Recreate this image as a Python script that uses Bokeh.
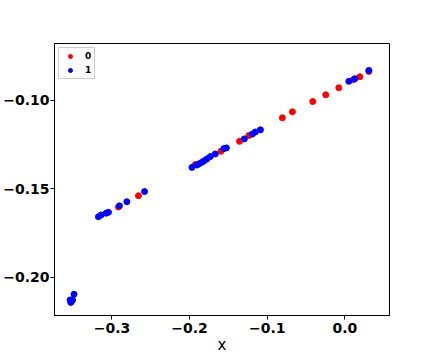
from bokeh.plotting import figure
from bokeh.models import ColumnDataSource, FixedTicker, CustomJSTickFormatter, Range1d, Legend, LegendItem
from bokeh.embed import file_html
from bokeh.resources import INLINE

# class 0 (red)
x0 = [0.031, 0.0194, 0.0108, -0.0077, -0.0245, -0.0413, -0.0675, -0.0804,
      -0.1236, -0.1356, -0.1595, -0.1926, -0.2658, -0.2916]
y0 = [-0.0836, -0.0866, -0.0883, -0.0928, -0.0968, -0.1006, -0.1064, -0.1098,
      -0.1198, -0.1231, -0.1287, -0.1362, -0.1538, -0.1602]
# class 1 (blue)
x1 = [0.031, 0.0129, 0.0052, -0.1087, -0.1152, -0.1191, -0.1294, -0.1526,
      -0.1559, -0.1668, -0.1733, -0.1775, -0.1810, -0.1840, -0.1875, -0.1905,
      -0.1969, -0.2580, -0.2808, -0.2903, -0.3045, -0.3075, -0.3139, -0.3174,
      -0.3488, -0.3517, -0.3530, -0.3507, -0.3539]
y1 = [-0.0830, -0.0877, -0.0892, -0.1166, -0.1178, -0.1190, -0.1217, -0.1268,
      -0.1272, -0.1302, -0.1317, -0.1330, -0.1340, -0.1349, -0.1357, -0.1365,
      -0.1378, -0.1515, -0.1572, -0.1595, -0.1632, -0.1637, -0.1647, -0.1657,
      -0.2095, -0.2133, -0.2141, -0.2127, -0.2127]

x_ticks = [-0.3, -0.2, -0.1, 0.0]
y_ticks = [-0.20, -0.15, -0.10]
labels = ["0", "1"]

p = figure(width=432, height=360, frame_width=335, frame_height=272,
           output_backend="svg", toolbar_location=None,
           x_range=Range1d(-0.374, 0.0576), y_range=Range1d(-0.2215, -0.0678),
           min_border_left=54, min_border_top=43, min_border_right=43, min_border_bottom=45)

p.xgrid.visible = False
p.ygrid.visible = False
p.outline_line_color = "black"
p.outline_line_alpha = 1
p.background_fill_color = "white"
p.border_fill_color = "white"

s0 = ColumnDataSource(dict(x=x0, y=y0))
s1 = ColumnDataSource(dict(x=x1, y=y1))
r0 = p.scatter("x", "y", source=s0, size=6, fill_color="#ff0000", line_color="#ff0000")
r1 = p.scatter("x", "y", source=s1, size=6, fill_color="#0000ff", line_color="#0000ff")

p.xaxis.ticker = FixedTicker(ticks=x_ticks)
p.yaxis.ticker = FixedTicker(ticks=y_ticks)
p.xaxis.formatter = CustomJSTickFormatter(code="return (Math.abs(tick) < 1e-9 ? 0 : tick).toFixed(1).replace('-', '\\u2212');")
p.yaxis.formatter = CustomJSTickFormatter(code="return tick.toFixed(2).replace('-', '\\u2212');")

for ax in (p.xaxis, p.yaxis):
    ax.major_label_text_font = "DejaVu Sans"
    ax.major_label_text_font_style = "bold"
    ax.major_label_text_font_size = "14px"
    ax.major_label_text_color = "black"
    ax.major_tick_out = 4
    ax.major_tick_in = 0
    ax.minor_tick_out = 0
    ax.minor_tick_in = 0
    ax.axis_line_color = "black"
    ax.major_tick_line_color = "black"
p.yaxis.major_label_standoff = 1
p.xaxis.major_label_standoff = 3

p.xaxis.axis_label = "x"
p.xaxis.axis_label_text_font = "DejaVu Sans"
p.xaxis.axis_label_text_font_style = "normal"
p.xaxis.axis_label_text_font_size = "15px"
p.xaxis.axis_label_standoff = 0
p.xaxis.axis_label_text_color = "black"

legend = Legend(items=[LegendItem(label=labels[0], renderers=[r0]),
                       LegendItem(label=labels[1], renderers=[r1])],
                location="top_left")
legend.label_text_font = "DejaVu Sans"
legend.label_text_font_style = "bold"
legend.label_text_font_size = "9px"
legend.label_text_color = "black"
legend.label_width = 6
legend.glyph_width = 16
legend.glyph_height = 10
legend.label_height = 10
legend.label_standoff = 7
legend.spacing = 4
legend.padding = 3
legend.margin = 4
legend.border_line_color = "#cccccc"
legend.border_line_alpha = 1
legend.background_fill_alpha = 1
p.add_layout(legend)

open("out.html", "w").write(file_html(p, INLINE))
